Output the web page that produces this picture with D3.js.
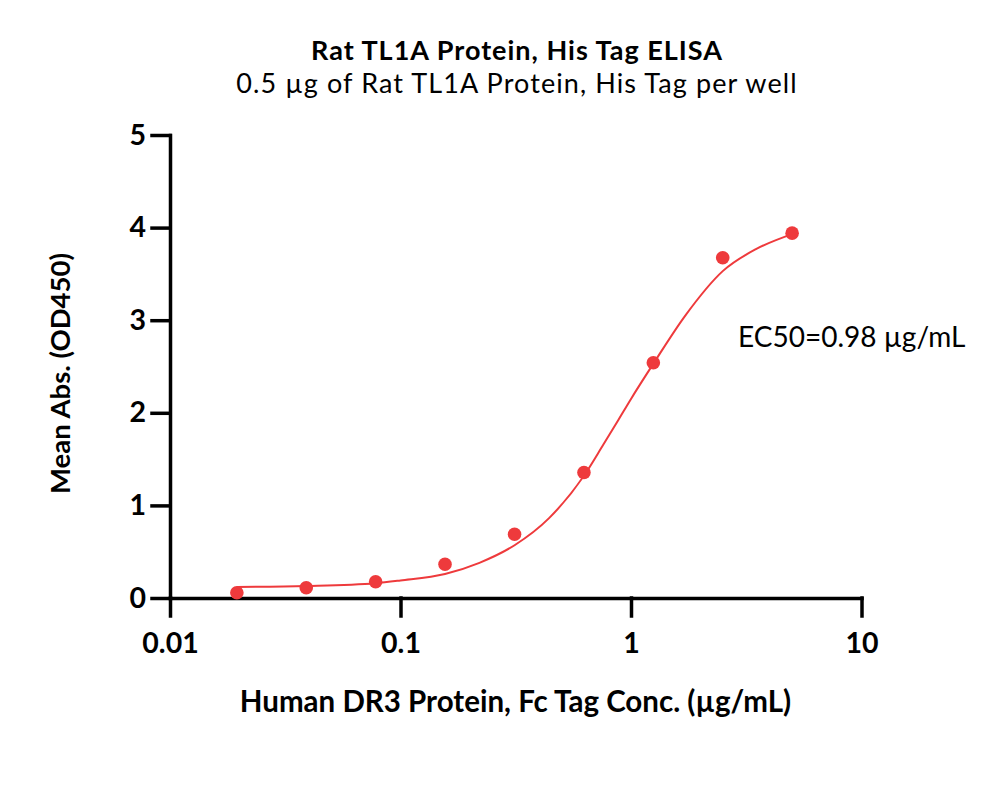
<!DOCTYPE html>
<html>
<head>
<meta charset="utf-8">
<script src="https://cdn.jsdelivr.net/npm/d3@7"></script>
<style>
  body { margin: 0; background: #fff; }
  text { font-family: Lato, "Open Sans", sans-serif; fill: #000; }
</style>
</head>
<body>
<div id="chart"></div>
<script>
// measured points (concentration in µg/mL, mean OD450)
let conc = [0.0195, 0.039, 0.078, 0.156, 0.3125, 0.625, 1.25, 2.5, 5];
let od = [0.057, 0.11, 0.176, 0.364, 0.688, 1.355, 2.54, 3.675, 3.94];

// fitted curve
let fitConc = [0.0195, 0.039, 0.078, 0.1, 0.156, 0.22, 0.3125, 0.44, 0.625, 0.76, 0.88, 1.0, 1.25, 1.72, 2.5, 3.5, 5];
let fitOd = [0.12, 0.13, 0.16, 0.19, 0.26, 0.38, 0.57, 0.86, 1.32, 1.66, 1.92, 2.15, 2.53, 3.05, 3.53, 3.77, 3.93];

let xTicks = [0.01, 0.1, 1, 10];
let xTickLabels = ["0.01", "0.1", "1", "10"];
let yTicks = [0, 1, 2, 3, 4, 5];

let red = "#ee3a3c";

let svg = d3.select("#chart").append("svg")
    .attr("width", 1000)
    .attr("height", 794);

let x = d3.scaleLog()
    .domain([0.01, 10])
    .range([170, 861.5]);

let y = d3.scaleLinear()
    .domain([0, 5])
    .range([598, 135]);

// titles
svg.append("text")
    .attr("x", 517).attr("y", 60)
    .attr("text-anchor", "middle")
    .style("font-weight", "bold")
    .style("font-size", "27px")
    .style("letter-spacing", "1px")
    .text("Rat TL1A Protein, His Tag ELISA");

svg.append("text")
    .attr("x", 517).attr("y", 93)
    .attr("text-anchor", "middle")
    .style("font-size", "27px")
    .style("letter-spacing", "1.1px")
    .text("0.5 µg of Rat TL1A Protein, His Tag per well");

// x axis
let xAxis = svg.append("g")
    .attr("transform", "translate(0,598)")
    .call(d3.axisBottom(x)
        .tickValues(xTicks)
        .tickFormat((d, i) => xTickLabels[i])
        .tickSize(18)
        .tickSizeOuter(0));

xAxis.selectAll("text")
    .attr("y", 55).attr("dy", 0)
    .style("font-weight", "bold")
    .style("font-size", "28.5px");

// y axis
let yAxis = svg.append("g")
    .attr("transform", "translate(170,0)")
    .call(d3.axisLeft(y)
        .tickValues(yTicks)
        .tickFormat(d3.format("d"))
        .tickSize(18)
        .tickPadding(6)
        .tickSizeOuter(0));

yAxis.selectAll("text")
    .style("font-weight", "bold")
    .style("font-size", "28.5px");

svg.selectAll(".domain, .tick line")
    .attr("stroke", "#000")
    .attr("stroke-width", 3.5)
    .attr("stroke-linecap", "square");

// axis labels
svg.append("text")
    .attr("transform", "translate(70,373.5) rotate(-90)")
    .attr("text-anchor", "middle")
    .style("font-weight", "bold")
    .style("font-size", "27.5px")
    .text("Mean Abs. (OD450)");

svg.append("text")
    .attr("x", 515.5).attr("y", 712)
    .attr("text-anchor", "middle")
    .style("font-weight", "bold")
    .style("font-size", "29.5px")
    .text("Human DR3 Protein, Fc Tag Conc. (µg/mL)");

// fitted curve
let fitLine = d3.line()
    .x(d => x(d[0]))
    .y(d => y(d[1]))
    .curve(d3.curveMonotoneX);

svg.append("path")
    .datum(d3.zip(fitConc, fitOd))
    .attr("d", fitLine)
    .attr("fill", "none")
    .attr("stroke", red)
    .attr("stroke-width", 2);

// data points
svg.selectAll(".pt")
    .data(d3.zip(conc, od))
    .join("circle")
    .attr("class", "pt")
    .attr("cx", d => x(d[0]))
    .attr("cy", d => y(d[1]))
    .attr("r", 6.8)
    .attr("fill", red);

svg.append("text")
    .attr("x", 738).attr("y", 347)
    .style("font-size", "28px")
    .text("EC50=0.98 µg/mL");
</script>
</body>
</html>
